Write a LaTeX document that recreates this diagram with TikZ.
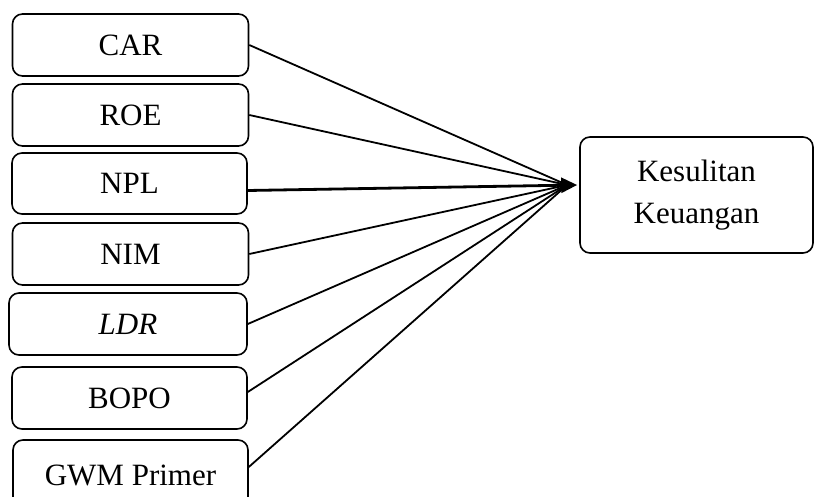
\documentclass[tikz,border=0pt]{standalone}
\usepackage{fontspec}
\setmainfont{Liberation Serif}
\usetikzlibrary{arrows.meta,calc}
\begin{document}
\begin{tikzpicture}[x=1pt,y=-1pt,
  varbox/.style={draw=black,line width=1.6pt,rounded corners=10pt,inner sep=0pt,
    minimum width=236pt,minimum height=62pt,align=center,
    font=\fontsize{31}{42}\selectfont},
  link/.style={line width=1.8pt,draw=black},
  mainlink/.style={line width=2.8pt,draw=black,-{Triangle[length=16pt,width=15pt]}}]
\useasboundingbox (0,0) rectangle (815,497);
\begin{scope}
\clip (0,0) rectangle (815,497);
\node[varbox] (car)  at (130.5,45)  {CAR};
\node[varbox] (roe)  at (130.5,115) {ROE};
\node[varbox,minimum width=235pt,minimum height=61pt] (npl) at (129.5,183.5) {NPL};
\node[varbox] (nim)  at (130.5,254) {NIM};
\node[varbox,minimum width=238pt] (ldr) at (128,324) {\itshape LDR};
\node[varbox,minimum width=235pt] (bopo) at (129.5,398) {BOPO};
\node[varbox,minimum width=235pt,minimum height=70pt] (gwm) at (130.5,475) {GWM Primer};
\node[varbox,minimum width=233pt,minimum height=116pt] (tgt) at (696.5,195) {Kesulitan\\Keuangan};
\end{scope}
\coordinate (tip) at ($(tgt.west)+(-2,-10)$);
\coordinate (hub) at ($(tip)+(-10,0)$);
\draw[link] (car.east) -- (hub);
\draw[link] (roe.east) -- (hub);
\draw[mainlink] ($(npl.east)+(0,7)$) -- (tip);
\draw[link] (nim.east) -- (hub);
\draw[link] (ldr.east) -- (hub);
\draw[link] ($(bopo.east)+(0,-6)$) -- (hub);
\draw[link] ($(gwm.east)+(0,-8)$) -- (hub);
\end{tikzpicture}
\end{document}
